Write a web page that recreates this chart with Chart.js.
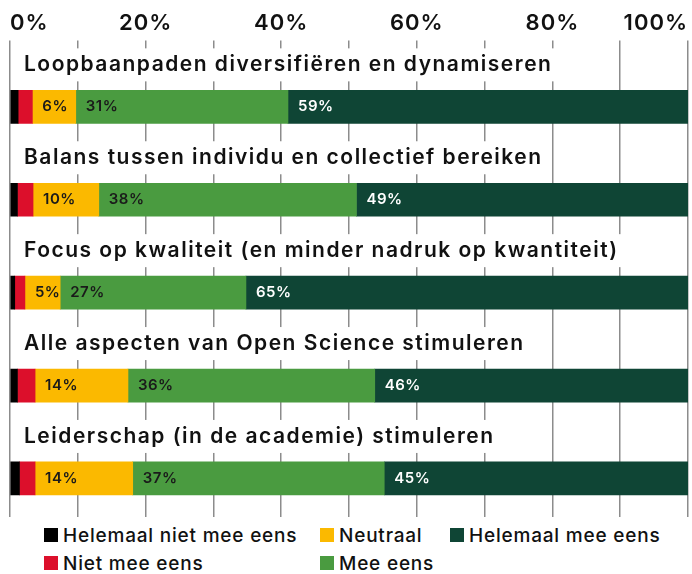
<!DOCTYPE html>
<html>
<head>
<meta charset="utf-8">
<script src="https://cdn.jsdelivr.net/npm/chart.js@4.4.0/dist/chart.umd.min.js"></script>
<style>
    body { margin: 0; background: #fff; font-family: Inter, sans-serif; }
    #wrap { position: relative; width: 692px; height: 520px; }
    #legend {
        display: grid;
        grid-template-columns: 276px 130px auto;
        grid-template-rows: 28px 28px;
        grid-auto-flow: column;
        padding-left: 44px;
        margin-top: 1px;
    }
    .item { display: flex; align-items: center; font-size: 19px; font-weight: 500; letter-spacing: 0.8px; color: #111; white-space: nowrap; }
    .box { width: 14px; height: 14px; margin-right: 5px; flex: none; }
</style>
</head>
<body>
<div id="wrap"><canvas id="chart"></canvas></div>
<div id="legend"></div>
<script>
// stellingen (een balk per stelling)
const questions = [
    'Loopbaanpaden diversifiëren en dynamiseren',
    'Balans tussen individu en collectief bereiken',
    'Focus op kwaliteit (en minder nadruk op kwantiteit)',
    'Alle aspecten van Open Science stimuleren',
    'Leiderschap (in de academie) stimuleren'
];
const rows = [0, 1, 2, 3, 4];

// antwoordcategorieen
const categories = ['Helemaal niet mee eens', 'Niet mee eens', 'Neutraal', 'Mee eens', 'Helemaal mee eens'];
const colors = ['#000000', '#dc0f2b', '#fbb900', '#4a9b40', '#0f4535'];

// percentages per categorie
const helemaalNiet = [1.2, 1.1, 0.7, 1.1, 1.4];
const nietMee = [2.1, 2.3, 1.5, 2.6, 2.3];
const neutraal = [6.4, 9.7, 5.2, 13.7, 14.4];
const meeEens = [31.3, 38.0, 27.4, 36.4, 37.1];
const helemaalMee = [59.0, 48.9, 65.2, 46.2, 44.8];
const series = [helemaalNiet, nietMee, neutraal, meeEens, helemaalMee];

const tickLabels = ['0%', '20%', '40%', '60%', '80%', '100%'];

// wat extra letterafstand, het origineel gebruikt een brede letter
const spacingPlugin = {
    id: 'spacing',
    beforeDraw(chart) { chart.ctx.letterSpacing = '1px'; }
};

// titels boven de balken, met witte achtergrond
const titlePlugin = {
    id: 'titles',
    beforeDatasetsDraw(chart) {
        const { ctx, scales: { x, y } } = chart;
        ctx.save();
        ctx.font = '600 21px Inter';
        ctx.letterSpacing = '1.5px';
        ctx.textBaseline = 'middle';
        rows.forEach((r, i) => {
            const cy = y.getPixelForValue(r) - 42;
            const w = ctx.measureText(questions[i]).width;
            ctx.fillStyle = '#fff';
            ctx.fillRect(x.left + 1, cy - 16.5, w + 22, 33);
            ctx.fillStyle = '#111';
            ctx.fillText(questions[i], x.left + 14, cy);
        });
        ctx.restore();
    }
};

// percentages in de balken
const valuePlugin = {
    id: 'values',
    afterDatasetsDraw(chart) {
        const { ctx } = chart;
        ctx.save();
        ctx.font = '600 15px Inter';
        ctx.letterSpacing = '0.5px';
        ctx.textBaseline = 'middle';
        chart.data.datasets.forEach((ds, di) => {
            const meta = chart.getDatasetMeta(di);
            meta.data.forEach((bar, i) => {
                const v = ds.data[i].x;
                if (v < 4.5) return;
                ctx.fillStyle = di === 4 ? '#fff' : '#1a1a1a';
                ctx.fillText(Math.round(v) + '%', Math.min(bar.base, bar.x) + 10, bar.y);
            });
        });
        ctx.restore();
    }
};

const chart = new Chart(document.getElementById('chart'), {
    type: 'bar',
    data: {
        datasets: categories.map((c, k) => ({
            label: c,
            data: rows.map(r => ({ x: series[k][r], y: r })),
            backgroundColor: colors[k],
            borderWidth: 0,
            barThickness: 33
        }))
    },
    options: {
        indexAxis: 'y',
        responsive: true,
        maintainAspectRatio: false,
        animation: false,
        layout: { padding: { left: 10, right: 3, top: 6, bottom: 3 } },
        plugins: { legend: { display: false }, tooltip: { enabled: false } },
        scales: {
            x: {
                position: 'top',
                stacked: true,
                min: 0,
                max: 100,
                border: { display: false },
                grid: { color: '#8c8c8c', lineWidth: 1.5, tickLength: 7 },
                ticks: {
                    stepSize: 10,
                    autoSkip: false,
                    maxRotation: 0,
                    align: 'inner',
                    padding: 4,
                    color: '#111',
                    font: { family: 'Inter', size: 22, weight: '600' },
                    callback: v => (v % 20 === 0 ? tickLabels[v / 20] : '')
                }
            },
            y: {
                type: 'linear',
                stacked: true,
                reverse: true,
                offset: false,
                min: -0.64,
                max: 4.415,
                display: false
            }
        }
    },
    plugins: [spacingPlugin, titlePlugin, valuePlugin]
});

// legenda in kolommen
const legend = document.getElementById('legend');
categories.forEach((c, k) => {
    const item = document.createElement('div');
    item.className = 'item';
    item.innerHTML = `<span class="box" style="background:${colors[k]}"></span>${c}`;
    legend.appendChild(item);
});
</script>
</body>
</html>
